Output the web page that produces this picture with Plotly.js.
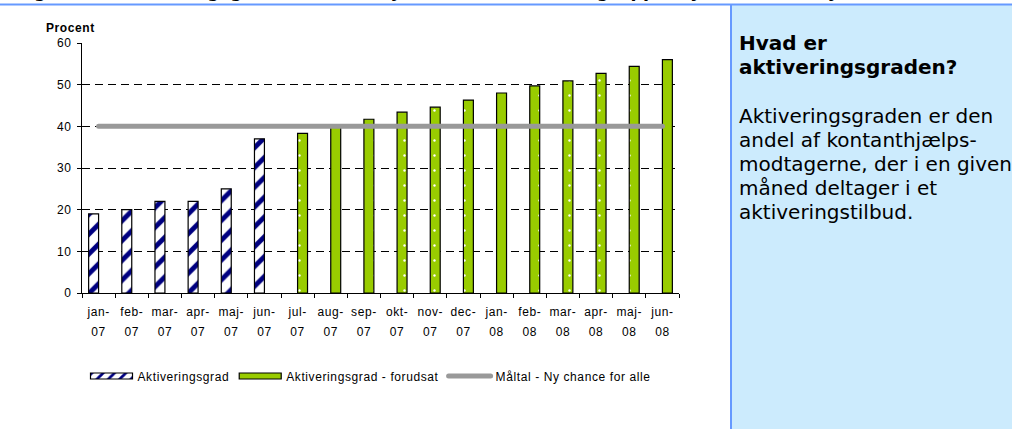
<!DOCTYPE html>
<html>
<head>
<meta charset="utf-8">
<script src="https://cdn.plot.ly/plotly-3.0.1.min.js"></script>
<style>
html,body{margin:0;padding:0;background:#fff;}
#chart{width:1012px;height:429px;}
.xtick text, .x2tick text, .ytick text, .legendtext { letter-spacing:0.6px; }
.annotation[data-index="0"] .annotation-text { letter-spacing:0.6px; }
.scatterlayer .js-line, .legendlines path { stroke-linecap: round; }
.legend .legendpoints path { d: path("M21,3H-21V-3H21Z"); }
</style>
</head>
<body>
<div id="chart"></div>
<script>
// ---- data ----
const categories = ['jan-07','feb-07','mar-07','apr-07','maj-07','jun-07','jul-07','aug-07','sep-07','okt-07','nov-07','dec-07','jan-08','feb-08','mar-08','apr-08','maj-08','jun-08'];
const monthLabels = ['jan-','feb-','mar-','apr-','maj-','jun-','jul-','aug-','sep-','okt-','nov-','dec-','jan-','feb-','mar-','apr-','maj-','jun-'];
const yearLabels = ['07','07','07','07','07','07','07','07','07','07','07','07','08','08','08','08','08','08'];
const aktiveringsgrad = [19,20,22,22,25,37,null,null,null,null,null,null,null,null,null,null,null,null];
const forudsat = [null,null,null,null,null,null,38.3,40.0,41.7,43.4,44.6,46.3,48.0,49.7,50.9,52.7,54.4,56.0];
const maaltal = [40,40,40,40,40,40,40,40,40,40,40,40,40,40,40,40,40,40];
const yTicks = [0,10,20,30,40,50,60];
const seriesNames = ['Aktiveringsgrad','Aktiveringsgrad - forudsat','Måltal - Ny chance for alle'];
const yLabel = 'Procent';
const figTitle = 'Figur 1.1. Aktiveringsgraden blandt Ny chance for alle-målgruppen, januar 2007 - juni 2008';
const boxTitle = ['Hvad er','aktiveringsgraden?'];
const boxText = ['Aktiveringsgraden er den','andel af kontanthjælps-','modtagerne, der i en given','måned deltager i et','aktiveringstilbud.'];

// ---- geometry helpers (pixel -> paper) ----
const M = {l:82, r:333, t:43, b:136};
const PW = 1012 - M.l - M.r, PH = 429 - M.t - M.b;
const X = px => (px - M.l) / PW;
const Y = py => 1 - (py - M.t) / PH;

const tickFont = {family:'"Liberation Sans", Arial, sans-serif', size:12, color:'#000'};

const data = [
  {
    type:'bar', name:seriesNames[0], x:categories, y:aktiveringsgrad, xaxis:'x', yaxis:'y',
    marker:{color:'#ffffff', line:{color:'#000', width:1.2},
      pattern:{shape:'/', fgcolor:'#000080', bgcolor:'#ffffff', size:14, solidity:0.35}},
    hoverinfo:'skip'
  },
  {
    type:'bar', name:seriesNames[1], x:categories, y:forudsat, xaxis:'x', yaxis:'y',
    marker:{color:'#99CC00', line:{color:'#000', width:1.2},
      pattern:{shape:'.', fgcolor:'#ffffff', bgcolor:'#99CC00', size:15, solidity:0.02}},
    hoverinfo:'skip'
  },
  {
    type:'scatter', mode:'lines', name:seriesNames[2], x:categories, y:maaltal, xaxis:'x2', yaxis:'y',
    line:{color:'#999999', width:5}, hoverinfo:'skip'
  }
];

const annotations = [
  {text:yLabel, xref:'paper', yref:'paper', x:X(46), y:Y(28), xanchor:'left', yanchor:'middle', showarrow:false,
   font:{family:'"Liberation Sans", Arial, sans-serif', size:12, color:'#000', weight:'bold'}},
  {text:figTitle, xref:'paper', yref:'paper', x:X(14), y:Y(-9.5), xanchor:'left', yanchor:'middle', showarrow:false,
   font:{family:'"DejaVu Sans", Verdana, sans-serif', size:17.5, color:'#000', weight:'bold'}}
];
const titleCenters = [43.1, 66.6];
boxTitle.forEach((t,i) => annotations.push({text:t, xref:'paper', yref:'paper', x:X(737), y:Y(titleCenters[i]),
  xanchor:'left', yanchor:'middle', showarrow:false,
  font:{family:'"DejaVu Sans", Verdana, sans-serif', size:20, color:'#000', weight:'bold'}}));
boxText.forEach((t,i) => annotations.push({text:t, xref:'paper', yref:'paper', x:X(737), y:Y(116.4 + 24*i),
  xanchor:'left', yanchor:'middle', showarrow:false,
  font:{family:'"DejaVu Sans", Verdana, sans-serif', size:20, color:'#000'}}));

const layout = {
  width:1012, height:429,
  margin:M,
  paper_bgcolor:'#ffffff', plot_bgcolor:'#ffffff',
  barmode:'group', bargap:0.4, bargroupgap:0,
  showlegend:true,
  legend:{orientation:'h', x:X(85.5), xanchor:'left', y:Y(376), yanchor:'middle',
    font:tickFont, itemwidth:42, bgcolor:'rgba(0,0,0,0)', borderwidth:0, traceorder:'normal'},
  xaxis:{type:'category', categoryorder:'array', categoryarray:categories, range:[-0.5,17.5],
    tickmode:'array', tickvals:categories, ticktext:monthLabels, tickson:'boundaries',
    ticks:'outside', ticklen:4, tickcolor:'#000', tickwidth:1, showline:true, linecolor:'#000', linewidth:1,
    showgrid:false, zeroline:false, tickfont:tickFont, tickangle:0, ticklabelstandoff:8, fixedrange:true},
  xaxis2:{type:'category', overlaying:'x', anchor:'y', side:'bottom', categoryorder:'array', categoryarray:categories,
    range:[-0.5,17.5], tickmode:'array', tickvals:categories, ticktext:yearLabels,
    ticks:'', showline:false, showgrid:false, zeroline:false, tickfont:tickFont, tickangle:0, ticklabelstandoff:30, fixedrange:true},
  yaxis:{range:[0,60], tickmode:'array', tickvals:yTicks, ticks:'outside', ticklen:4, tickcolor:'#000',
    showline:true, linecolor:'#000', linewidth:1, showgrid:true, gridcolor:'#000', gridwidth:1, griddash:'8px,5px',
    zeroline:false, tickfont:tickFont, ticklabelstandoff:3, fixedrange:true},
  shapes:[
    {type:'rect', xref:'paper', yref:'paper', x0:X(731), x1:X(1014), y0:Y(431), y1:Y(5), fillcolor:'#CCEBFD', line:{width:0}, layer:'below'},
    {type:'line', xref:'paper', yref:'paper', x0:X(731), x1:X(731), y0:Y(5), y1:Y(431), line:{color:'#6699FF', width:2}},
    {type:'line', xref:'paper', yref:'paper', x0:X(-2), x1:X(1014), y0:Y(4.5), y1:Y(4.5), line:{color:'#6699FF', width:2}}
  ],
  annotations:annotations
};

Plotly.newPlot('chart', data, layout, {staticPlot:true, displayModeBar:false}).then(gd => {
  gd.querySelectorAll('.legend .legendpoints path').forEach(p => p.setAttribute('d','M21,3H-21V-3H21Z'));
});
</script>
</body>
</html>
